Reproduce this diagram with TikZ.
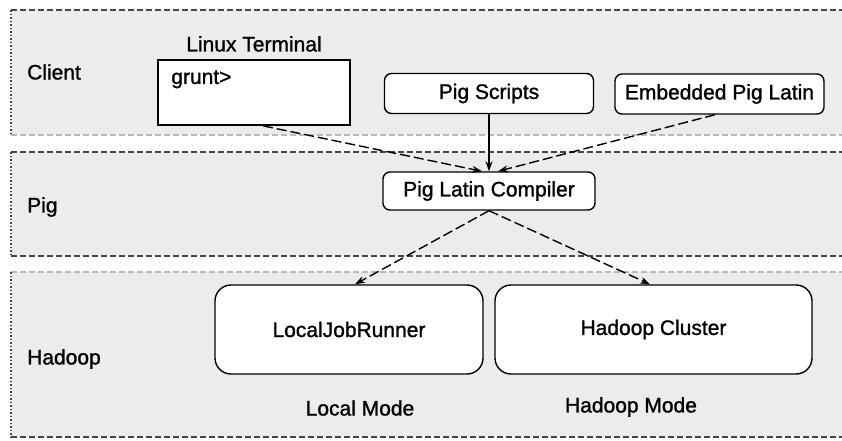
\documentclass[tikz,border=0pt]{standalone}
\usepackage{fontspec}
\setmainfont{Liberation Sans}[BoldFont=Liberation Sans, BoldFeatures={FakeBold=1.2}]
\usetikzlibrary{positioning,arrows.meta}
\definecolor{panelgray}{RGB}{236,236,236}
\definecolor{edgegray}{RGB}{70,70,70}

\begin{document}
\begin{tikzpicture}[x=1pt, y=-1pt, font=\fontsize{21}{25}\selectfont\bfseries,
    topedge/.style = {draw=edgegray, dash pattern=on 6pt off 3pt, line width=1.6pt},
    softedge/.style = {draw=black!28, dash pattern=on 6pt off 3pt, line width=1.2pt},
    sideedge/.style = {draw=edgegray, dash pattern=on 1.5pt off 2pt, line width=1.6pt},
    tag/.style = {anchor=west, inner sep=0pt},
    pill/.style = {draw, fill=white, rounded corners=7pt, line width=1.4pt, minimum width=209pt, minimum height=40pt},
    bigpill/.style = {draw, fill=white, rounded corners=16pt, line width=1.4pt, minimum height=89pt},
    flow/.style = {-{Stealth[length=10pt,width=7pt]}, dash pattern=on 10pt off 4pt, line width=1.4pt}]
    \useasboundingbox (0,0) rectangle (842,440);

    % layers
    \fill[panelgray] (11,10) rectangle (842,135);
    \fill[panelgray] (11,152) rectangle (842,256);
    \fill[panelgray] (11,272) rectangle (842,437);
    \draw[topedge] (11,10) -- (842,10);
    \draw[softedge] (11,135) -- (842,135);
    \draw[topedge] (11,152) -- (842,152);
    \draw[topedge] (11,256) -- (842,256);
    \draw[softedge] (11,272) -- (842,272);
    \draw[topedge] (11,437) -- (842,437);
    \draw[sideedge] (11,10) -- (11,135);
    \draw[sideedge] (11,152) -- (11,256);
    \draw[sideedge] (11,272) -- (11,437);

    \node[tag] (client) at (27,72) {Client};
    \node[tag] (pig) at (27,207) {Pig};
    \node[tag] (hadoop) at (27,359) {Hadoop};

    % client
    \node[draw, fill=white, line width=1.7pt, minimum width=192pt, minimum height=65pt] (term) at (254,92.5) {};
    \node[above=4pt of term] (termlabel) {Linux Terminal};
    \node[anchor=north west, inner sep=0pt] (prompt) at ([xshift=14pt,yshift=-11pt]term.north west) {grunt>};
    \node[pill] (scripts) at (489,93.5) {Pig Scripts};
    \node[pill] (embedded) at (719.5,94) {Embedded Pig Latin};

    % pig
    \node[pill, minimum width=212pt, minimum height=38pt] (compiler) at (489,191) {Pig Latin Compiler};

    % hadoop
    \node[bigpill, minimum width=268pt] (runner) at (349,329.5) {LocalJobRunner};
    \node[bigpill, minimum width=317pt] (cluster) at (653.5,329.5) {Hadoop Cluster};
    \node (localmode) at (360,408) {Local Mode};
    \node (hadoopmode) at (631,407) {Hadoop Mode};

    \draw[flow] ([xshift=9pt]term.south) -- ([xshift=-7pt]compiler.north);
    \draw[flow, solid] (scripts.south) -- (compiler.north);
    \draw[flow] ([xshift=-4.5pt]embedded.south) -- ([xshift=9pt]compiler.north);
    \draw[flow] (compiler.south) -- ([xshift=6pt]runner.north);
    \draw[flow] (compiler.south) -- ([xshift=-3.5pt]cluster.north);
\end{tikzpicture}
\end{document}
